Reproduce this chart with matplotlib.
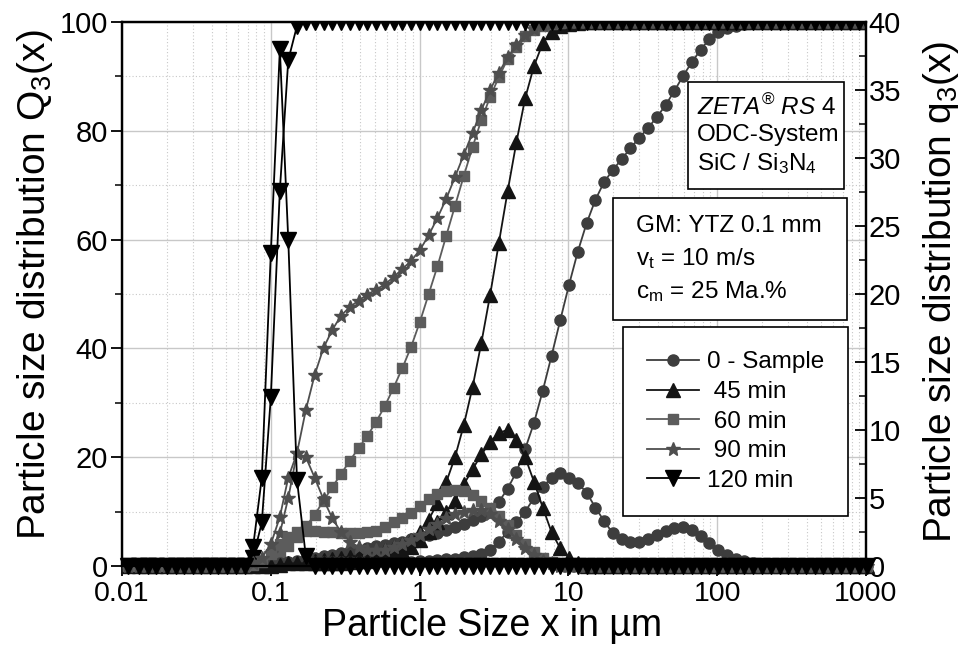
import matplotlib
matplotlib.use('Agg')
import matplotlib.pyplot as plt
from matplotlib.ticker import MultipleLocator, LogLocator, FixedLocator, NullFormatter
from matplotlib.patches import Rectangle

plt.rcParams['font.family'] = ['Liberation Sans', 'DejaVu Sans']
plt.rcParams['mathtext.fontset'] = 'custom'
plt.rcParams['mathtext.rm'] = 'Liberation Sans'
plt.rcParams['mathtext.it'] = 'Liberation Sans:italic'
plt.rcParams['mathtext.bf'] = 'Liberation Sans:bold'

# size classes of the analyser (um)
size_um = [0.011, 0.013, 0.015, 0.017, 0.020, 0.023, 0.026, 0.030, 0.034, 0.039,
           0.044, 0.051, 0.058, 0.067, 0.076, 0.087, 0.100, 0.115, 0.131, 0.150,
           0.172, 0.197, 0.226, 0.259, 0.296, 0.339, 0.389, 0.445, 0.510, 0.584,
           0.669, 0.766, 0.877, 1.005, 1.151, 1.318, 1.510, 1.729, 1.981, 2.269,
           2.599, 2.976, 3.409, 3.905, 4.472, 5.122, 5.867, 6.720, 7.697, 8.816,
           10.097, 11.565, 13.246, 15.172, 17.377, 19.904, 22.797, 26.111, 29.907, 34.255,
           39.234, 44.938, 51.471, 58.953, 67.523, 77.339, 88.583, 101.46, 116.21, 133.10,
           152.45, 174.61, 200.00, 229.07, 262.38, 300.52, 344.21, 394.25, 451.55, 517.20,
           592.39, 678.50, 777.14, 890.11, 1019.5]

labels = ['0 - Sample', ' 45 min', ' 60 min', ' 90 min', '120 min']

# cumulative distribution Q3 (%)
Q3_sample = [0.0] * 16 + [0.1, 0.3, 0.6, 0.9, 1.2, 1.5, 1.8, 2.1, 2.4, 2.7,
                          3.0, 3.3, 3.6, 3.9, 4.2, 4.5, 4.9, 5.3, 5.7, 6.1,
                          6.6, 7.1, 7.7, 8.4, 9.1, 9.9, 11.8, 14.2, 17.3, 21.5,
                          26.3, 32.2, 38.6, 45.2, 51.7, 57.8, 63.0, 67.3, 70.6, 72.8,
                          74.8, 76.8, 78.7, 80.5, 82.5, 84.7, 87.3, 90.1, 92.6, 94.9,
                          96.9, 98.2, 98.9, 99.3, 99.7, 99.9] + [100.0] * 13
Q3_45 = [0.0] * 17 + [0.1, 0.3, 0.5, 0.7, 0.9, 1.1, 1.3, 1.5, 1.7, 1.9,
                      2.2, 2.5, 2.9, 3.4, 4.0, 4.8, 6.2, 8.5, 11.6, 15.4,
                      20.0, 25.9, 32.9, 41.0, 49.8, 59.4, 68.9, 77.9, 86.0, 91.9,
                      96.1, 98.2, 99.2, 99.7, 99.9] + [100.0] * 33
Q3_60 = [0.0] * 14 + [0.1, 0.4, 1.0, 2.0, 3.6, 5.4, 7.3, 9.4, 12.0, 14.5,
                      16.9, 19.3, 21.7, 23.9, 26.5, 29.4, 32.8, 36.4, 40.3, 44.9,
                      50.0, 55.1, 60.7, 66.2, 71.7, 77.0, 82.0, 86.2, 89.9, 93.2,
                      95.4, 97.4, 98.5, 99.3, 99.7, 99.9] + [100.0] * 35
Q3_90 = [0.0] * 14 + [0.2, 0.8, 2.4, 6.0, 12.5, 20.8, 28.7, 35.1, 40.1, 43.4,
                      46.0, 47.6, 48.8, 49.9, 50.8, 51.8, 53.1, 54.6, 56.1, 58.1,
                      60.8, 64.0, 67.5, 71.5, 75.6, 79.6, 83.8, 87.5, 90.7, 93.5,
                      95.8, 97.6, 98.7, 99.4, 99.8] + [100.0] * 36
Q3_120 = [0.0] * 14 + [1.5, 8.0, 31.0, 69.0, 93.0, 99.3] + [100.0] * 65

# density distribution q3 (right axis)
q3_sample = [0.0] * 16 + [0.1, 0.2] + [0.3] * 15 + [
    0.35, 0.4, 0.45, 0.5, 0.55, 0.65, 0.75, 0.9, 1.2, 1.8,
    2.5, 3.2, 4.0, 5.0, 5.8, 6.5, 6.85, 6.5, 6.1, 5.4,
    4.3, 3.3, 2.4, 2.0, 1.75, 1.75, 2.0, 2.3, 2.6, 2.8,
    2.85, 2.65, 2.2, 1.7, 1.2, 0.8, 0.55, 0.4, 0.25, 0.1] + [0.0] * 12
q3_45 = [0.0] * 17 + [0.1, 0.2, 0.2, 0.2, 0.2, 0.2, 0.2, 0.25, 0.3, 0.35,
                      0.4, 0.5, 0.6, 0.8, 1.1, 1.4, 1.9, 2.5, 3.2, 4.0,
                      4.8, 6.0, 7.1, 8.2, 9.1, 9.8, 10.0, 9.3, 8.0, 6.2,
                      4.3, 2.5, 1.3, 0.6, 0.2] + [0.0] * 33
q3_60 = [0.0] * 14 + [0.1, 0.3, 0.9, 1.6, 2.1, 2.5, 2.6, 2.6, 2.5, 2.5,
                      2.4, 2.4, 2.4, 2.5, 2.6, 2.9, 3.2, 3.5, 3.9, 4.4,
                      4.9, 5.3, 5.5, 5.6, 5.5, 5.2, 4.8, 4.3, 3.7, 3.0,
                      2.3, 1.6, 1.0, 0.6, 0.3, 0.1] + [0.0] * 35
q3_90 = [0.0] * 14 + [0.2, 0.6, 1.6, 3.6, 6.5, 8.3, 8.0, 6.5, 4.9, 3.5,
                      2.5, 1.8, 1.4, 1.2, 1.2, 1.2, 1.4, 1.6, 1.9, 2.3,
                      2.7, 3.1, 3.5, 3.8, 4.0, 4.1, 4.1, 3.8, 3.3, 2.7,
                      2.0, 1.3, 0.8, 0.4, 0.2] + [0.0] * 36
q3_120 = [0.0] * 14 + [1.4, 6.5, 23.0, 38.0, 24.0, 6.3, 0.7] + [0.0] * 64

Q3_all = [Q3_sample, Q3_45, Q3_60, Q3_90, Q3_120]
q3_all = [q3_sample, q3_45, q3_60, q3_90, q3_120]
markers = ['o', '^', 's', '*', 'v']
msizes = [8, 10, 7.5, 10.5, 11.5]
colors = ['#3d3d3d', '#141414', '#5c5c5c', '#4e4e4e', '#000000']

fig = plt.figure(figsize=(9.63, 6.55), dpi=100)
ax = fig.add_axes([0.1267, 0.1359, 0.7726, 0.8305])
ax2 = ax.twinx()

for Q, m, ms, c in zip(Q3_all, markers, msizes, colors):
    ax.plot(size_um, Q, marker=m, ms=ms, color=c, mec=c, mfc=c, lw=1.3)

handles = []
for q, m, ms, c in zip(q3_all, markers, msizes, colors):
    h, = ax2.plot(size_um, q, marker=m, ms=ms, color=c, mec=c, mfc=c, lw=1.3,
                  clip_on=False)
    handles.append(h)

ax.set_xscale('log')
ax.set_xlim(0.01, 1000)
ax.set_ylim(0, 100)
ax2.set_ylim(0, 40)

ax.xaxis.set_major_locator(FixedLocator([0.01, 0.1, 1, 10, 100, 1000]))
ax.set_xticklabels(['0.01', '0.1', '1', '10', '100', '1000'])
ax.xaxis.set_minor_locator(LogLocator(base=10, subs=range(2, 10)))
ax.xaxis.set_minor_formatter(NullFormatter())
ax.yaxis.set_major_locator(MultipleLocator(20))
ax.yaxis.set_minor_locator(MultipleLocator(10))
ax2.yaxis.set_major_locator(MultipleLocator(5))
ax2.yaxis.set_minor_locator(MultipleLocator(2.5))

ax.grid(which='major', color='#c8c8c8', lw=1.0, ls='-')
ax.grid(which='minor', color='#c8c8c8', lw=0.8, ls=(0, (1, 2)))
ax.set_axisbelow(True)

ax.tick_params(axis='y', which='major', labelsize=21, width=1.3, length=8,
               direction='out', right=False, pad=2)
ax.tick_params(axis='y', which='minor', width=1.1, length=5, direction='out', right=False)
ax.tick_params(axis='x', which='major', labelsize=20.5, width=1.3, length=7,
               direction='out', top=False, pad=4)
ax.tick_params(axis='x', which='minor', length=0, top=False)
ax2.tick_params(axis='y', which='major', labelsize=21, width=1.3, length=8,
                direction='in', pad=2)
ax2.tick_params(axis='y', which='minor', width=1.1, length=5, direction='in')
for sp in list(ax.spines.values()) + list(ax2.spines.values()):
    sp.set_linewidth(1.6)
    sp.set_color('black')

fig.text(35 / 963, 1 - 285 / 655, 'Particle size distribution Q$_3$(x)',
         rotation=90, ha='center', va='center', fontsize=28)
fig.text(941 / 963, 1 - 292 / 655, 'Particle size distribution q$_3$(x)',
         rotation=90, ha='center', va='center', fontsize=28)
fig.text(492 / 963, 1 - 626 / 655, 'Particle Size x in µm',
         ha='center', va='center', fontsize=27)

# info boxes
ax2.add_patch(Rectangle((0.761, 0.693), 0.209, 0.197, transform=ax2.transAxes,
                        facecolor='white', edgecolor='black', lw=1.2, zorder=5))
box1 = [r'$\mathit{ZETA}^{\rm ®}$ $\mathit{RS}$ 4', 'ODC-System', r'SiC / Si$_3$N$_4$']
for txt, yy in zip(box1, [0.843, 0.792, 0.740]):
    ax2.text(0.773, yy, txt, transform=ax2.transAxes, fontsize=17.5,
             ha='left', va='center', zorder=6)

ax2.add_patch(Rectangle((0.660, 0.452), 0.314, 0.224, transform=ax2.transAxes,
                        facecolor='white', edgecolor='black', lw=1.2, zorder=5))
box2 = ['GM: YTZ 0.1 mm', r'v$_\mathrm{t}$ = 10 m/s', r'c$_\mathrm{m}$ = 25 Ma.%']
for txt, yy in zip(box2, [0.625, 0.566, 0.504]):
    ax2.text(0.691, yy, txt, transform=ax2.transAxes, fontsize=17.5,
             ha='left', va='center', zorder=6)

leg = ax2.legend(handles, labels, loc='upper left', bbox_to_anchor=(0.673, 0.439),
                 fontsize=17.5, frameon=True, fancybox=False, framealpha=1,
                 edgecolor='black', borderpad=1.0, labelspacing=0.31,
                 handlelength=2.15, handletextpad=0.3, numpoints=1,
                 borderaxespad=0)
leg.get_frame().set_linewidth(1.2)
leg.set_zorder(7)

fig.savefig('out.png', dpi=100)
